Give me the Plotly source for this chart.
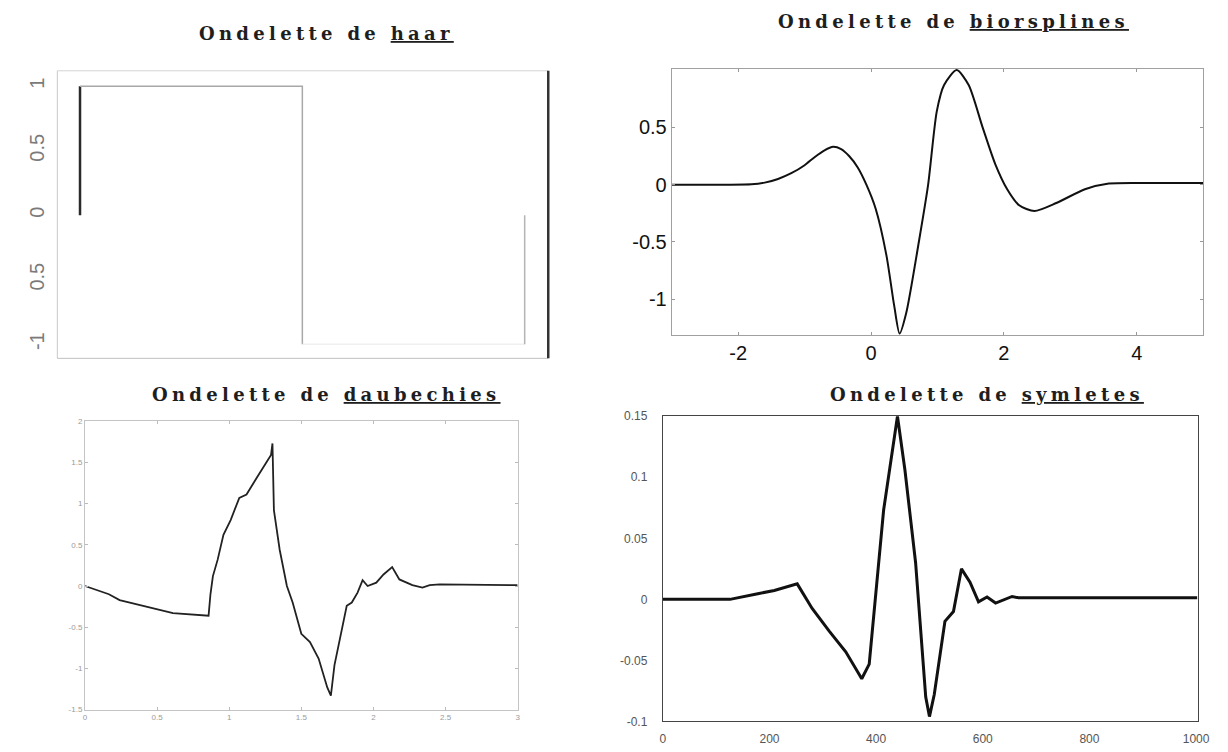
import plotly.graph_objects as go

W, H = 1228, 752

# ---------------- data ----------------
haar_x = [0, 0, 0.5, 0.5, 1, 1]
haar_y = [0, 1, 1, -1, -1, 0]
haar_ticks = [-1, -0.5, 0, 0.5, 1]
haar_ticktext = ["-1", "0.5", "0", "0.5", "1"]

bior_x = [-3.0, -2.2, -1.8, -1.6, -1.4, -1.2, -1.0, -0.85, -0.7, -0.57, -0.45, -0.33, -0.2, -0.07, 0.07,
          0.23, 0.35, 0.43, 0.53, 0.72, 0.86, 0.99, 1.1, 1.29, 1.47, 1.68, 1.87, 2.05, 2.23, 2.46, 2.79,
          3.22, 3.58, 4.2, 5.0]
bior_y = [0.0, 0.0, 0.003, 0.018, 0.05, 0.10, 0.17, 0.24, 0.30, 0.33, 0.31, 0.25, 0.15, 0.0, -0.21,
          -0.61, -1.06, -1.3, -1.12, -0.5, 0.0, 0.64, 0.87, 1.0, 0.87, 0.5, 0.18, -0.04, -0.18, -0.23, -0.16,
          -0.04, 0.01, 0.015, 0.015]
bior_xticks = [-2, 0, 2, 4]
bior_xticktext = ["-2", "0", "2", "4"]
bior_yticks = [-1, -0.5, 0, 0.5]
bior_yticktext = ["-1", "-0.5", "0", "0.5"]

daub_x = [0.0, 0.166, 0.24, 0.41, 0.61, 0.857, 0.87, 0.887, 0.92, 0.96, 1.01, 1.07, 1.12, 1.19, 1.29, 1.30,
          1.31, 1.35, 1.40, 1.44, 1.50, 1.56, 1.62, 1.68, 1.705, 1.73, 1.78, 1.815, 1.85, 1.89, 1.925, 1.96,
          2.02, 2.07, 2.13, 2.18, 2.27, 2.34, 2.39, 2.46, 3.0]
daub_y = [0.0, -0.10, -0.17, -0.24, -0.33, -0.36, -0.10, 0.12, 0.32, 0.62, 0.80, 1.07, 1.11, 1.31, 1.59, 1.73,
          0.92, 0.44, 0.0, -0.2, -0.58, -0.68, -0.88, -1.23, -1.33, -0.96, -0.52, -0.24, -0.2, -0.08, 0.07, 0.0,
          0.04, 0.14, 0.23, 0.08, 0.01, -0.02, 0.01, 0.02, 0.01]
daub_xticks = [0, 0.5, 1, 1.5, 2, 2.5, 3]
daub_xticktext = ["0", "0.5", "1", "1.5", "2", "2.5", "3"]
daub_yticks = [-1.5, -1, -0.5, 0, 0.5, 1, 1.5, 2]
daub_yticktext = ["-1.5", "-1", "-0.5", "0", "0.5", "1", "1.5", "2"]

sym_x = [0, 126, 178, 209, 252, 280, 312, 343, 373, 387, 414, 430, 440, 454, 474, 493, 500, 509, 529,
         545, 560, 576, 592, 608, 624, 655, 667, 1002]
sym_y = [0.0, 0.0, 0.0046, 0.0073, 0.0127, -0.0075, -0.026, -0.043, -0.065, -0.053, 0.073, 0.119, 0.15,
         0.106, 0.030, -0.080, -0.096, -0.078, -0.018, -0.010, 0.025, 0.014, -0.002, 0.002, -0.003, 0.0024,
         0.0013, 0.0013]
sym_xticks = [0, 200, 400, 600, 800, 1000]
sym_yticks = [-0.1, -0.05, 0, 0.05, 0.1, 0.15]
sym_yticktext = ["-0.1", "-0.05", "0", "0.05", "0.1", "0.15"]

titles = [("Ondelette de ", "haar"), ("Ondelette de ", "biorsplines"),
          ("Ondelette de ", "daubechies"), ("Ondelette de ", "symletes")]

# ---------------- layout helpers ----------------
def dom_x(a, b):
    return [a / W, b / W]

def dom_y(top, bottom):
    return [1 - bottom / H, 1 - top / H]

fig = go.Figure()

# Haar (top-left)
fig.add_trace(go.Scatter(x=haar_x[0:2], y=haar_y[0:2], mode="lines",
                         line=dict(color="#2a2a2a", width=2.5), xaxis="x", yaxis="y", showlegend=False))
fig.add_trace(go.Scatter(x=haar_x[1:4], y=haar_y[1:4], mode="lines",
                         line=dict(color="#a8a8a8", width=1.5), xaxis="x", yaxis="y", showlegend=False))
fig.add_trace(go.Scatter(x=haar_x[3:5], y=haar_y[3:5], mode="lines",
                         line=dict(color="#e8e8e8", width=1), xaxis="x", yaxis="y", showlegend=False))
fig.add_trace(go.Scatter(x=haar_x[4:6], y=haar_y[4:6], mode="lines",
                         line=dict(color="#b4b4b4", width=1.5), xaxis="x", yaxis="y", showlegend=False))

# Biorsplines (top-right)
fig.add_trace(go.Scatter(x=bior_x, y=bior_y, mode="lines",
                         line=dict(color="#111111", width=2, shape="spline", smoothing=0.7),
                         xaxis="x2", yaxis="y2", showlegend=False))
# Daubechies (bottom-left)
fig.add_trace(go.Scatter(x=daub_x, y=daub_y, mode="lines", line=dict(color="#222222", width=1.8),
                         xaxis="x3", yaxis="y3", showlegend=False))
# Symlets (bottom-right)
fig.add_trace(go.Scatter(x=sym_x, y=sym_y, mode="lines", line=dict(color="#111111", width=3),
                         xaxis="x4", yaxis="y4", showlegend=False))

sans = "Liberation Sans, Arial, sans-serif"

fig.update_layout(
    width=W, height=H, margin=dict(l=0, r=0, t=0, b=0),
    paper_bgcolor="white", plot_bgcolor="white",
    xaxis=dict(domain=dom_x(55, 552), range=[-0.051, 1.053], showgrid=False, zeroline=False,
               showticklabels=False, ticks="", showline=False, anchor="y"),
    yaxis=dict(domain=dom_y(65, 358), range=[-1.11, 1.12], showgrid=False, zeroline=False,
               tickvals=haar_ticks, ticktext=haar_ticktext, tickangle=-90,
               tickfont=dict(family=sans, size=20, color="#7a7a7a"), ticks="", showline=False,
               ticklabelstandoff=8, anchor="x"),
    xaxis2=dict(domain=dom_x(677, 1215), range=[-3, 5], showgrid=False, zeroline=False,
                tickvals=bior_xticks, ticktext=bior_xticktext, tickfont=dict(family=sans, size=20, color="#111"),
                ticks="inside", ticklen=3, tickcolor="#999", showline=True, linecolor="#a0a0a0",
                linewidth=1, mirror="ticks", anchor="y2"),
    yaxis2=dict(domain=dom_y(63, 334), range=[-1.31, 1.011], showgrid=False, zeroline=False,
                tickvals=bior_yticks, ticktext=bior_yticktext,
                tickfont=dict(family=sans, size=20, color="#111"),
                ticks="inside", ticklen=3, tickcolor="#999", showline=True, linecolor="#a0a0a0",
                linewidth=1, mirror="ticks", anchor="x2"),
    xaxis3=dict(domain=dom_x(83, 521), range=[0, 3], showgrid=False, zeroline=False,
                tickvals=daub_xticks, ticktext=daub_xticktext,
                tickfont=dict(family=sans, size=8, color="#9a9a9a"),
                ticks="inside", ticklen=3, tickcolor="#bbb", showline=True, linecolor="#c4c4c4",
                linewidth=1, mirror="ticks", anchor="y3"),
    yaxis3=dict(domain=dom_y(422, 716), range=[-1.5, 2], showgrid=False, zeroline=False,
                tickvals=daub_yticks, ticktext=daub_yticktext,
                tickfont=dict(family=sans, size=8, color="#9a9a9a"),
                ticks="inside", ticklen=3, tickcolor="#bbb", showline=True, linecolor="#c4c4c4",
                linewidth=1, mirror="ticks", anchor="x3"),
    xaxis4=dict(domain=dom_x(668, 1210), range=[0, 1004], showgrid=False, zeroline=False,
                tickvals=sym_xticks, tickfont=dict(family=sans, size=12, color="#555"),
                ticks="", showline=True, linecolor="#444", linewidth=1.2, mirror=True,
                ticklabelstandoff=6, anchor="y4"),
    yaxis4=dict(domain=dom_y(417, 728), range=[-0.1, 0.15], showgrid=False, zeroline=False,
                tickvals=sym_yticks, ticktext=sym_yticktext,
                tickfont=dict(family=sans, size=12, color="#555"),
                ticks="", showline=True, linecolor="#444", linewidth=1.2, mirror=True,
                ticklabelstandoff=12, anchor="x4"),
)

# Haar box drawn as frame shapes (domain-relative)
frame = [
    (0, 0, 0, 1, "#c8c8c8", 1),
    (0, 1, 1, 1, "#d4d4d4", 1),
    (0, 0, 1, 0, "#c0c0c0", 1),
    (1, 0, 1, 1, "#333333", 2.5),
]
for x0, y0, x1, y1, c, w in frame:
    fig.add_shape(type="line", xref="x domain", yref="y domain", x0=x0, y0=y0, x1=x1, y1=y1,
                  line=dict(color=c, width=w))

# Titles
title_pos = [(328, 27), (962, 15), (328, 395), (996, 395)]
for (pre, word), (cx, cy) in zip(titles, title_pos):
    txt = ('<span style="letter-spacing:4.3px">' + pre + '</span>'
           '<span style="letter-spacing:4.3px;text-decoration:underline">' + word + '</span>')
    fig.add_annotation(text=txt, xref="paper", yref="paper", x=cx / W, y=1 - cy / H,
                       xanchor="center", yanchor="middle", showarrow=False,
                       font=dict(family="DejaVu Serif, serif", size=18, color="#1e1e1e", weight="bold"))

fig.write_html("out.html")
